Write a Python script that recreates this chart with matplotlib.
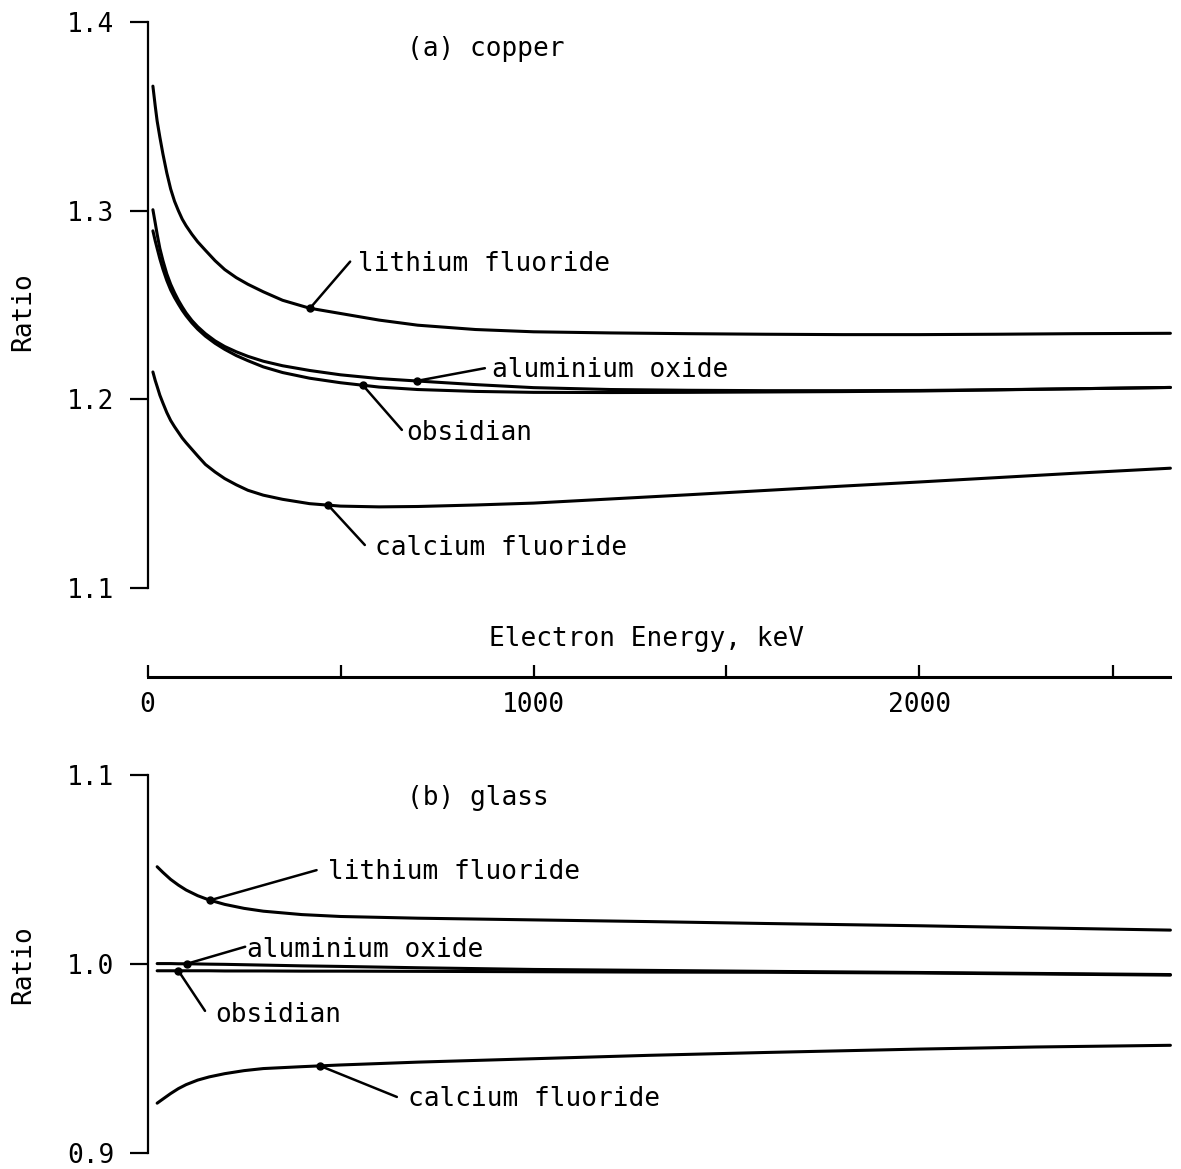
import numpy as np
import matplotlib
matplotlib.use('Agg')
import matplotlib.pyplot as plt

plt.rcParams['font.family'] = ['DejaVu Sans Mono', 'DejaVu Sans']

# ---------------- data ----------------
energy_a = [14, 20, 25, 32, 40, 50, 60, 70, 80, 90, 100, 115, 130, 150, 175, 200,
            230, 260, 300, 350, 420, 500, 600, 700, 850, 1000, 1200, 1400, 1600,
            1800, 2000, 2200, 2400, 2650]
lif_a = [1.3660, 1.3555, 1.3475, 1.3390, 1.3300, 1.3200, 1.3115, 1.3050, 1.3000,
         1.2955, 1.2920, 1.2875, 1.2835, 1.2790, 1.2735, 1.2688, 1.2645, 1.2610,
         1.2570, 1.2525, 1.2483, 1.2455, 1.2420, 1.2393, 1.2370, 1.2358, 1.2352,
         1.2348, 1.2345, 1.2343, 1.2343, 1.2345, 1.2348, 1.2350]
al2o3_a = [1.3005, 1.2935, 1.2875, 1.2800, 1.2735, 1.2665, 1.2610, 1.2565, 1.2525,
           1.2490, 1.2458, 1.2418, 1.2385, 1.2348, 1.2310, 1.2280, 1.2252, 1.2228,
           1.2202, 1.2178, 1.2153, 1.2130, 1.2110, 1.2097, 1.2078, 1.2062, 1.2052,
           1.2048, 1.2046, 1.2046, 1.2047, 1.2051, 1.2056, 1.2063]
obsidian_a = [1.2893, 1.2840, 1.2800, 1.2745, 1.2690, 1.2630, 1.2580, 1.2540, 1.2505,
              1.2472, 1.2443, 1.2405, 1.2372, 1.2335, 1.2297, 1.2265, 1.2232, 1.2205,
              1.2172, 1.2142, 1.2112, 1.2088, 1.2065, 1.2052, 1.2042, 1.2037, 1.2036,
              1.2037, 1.2039, 1.2041, 1.2044, 1.2050, 1.2056, 1.2063]
caf_a = [1.2145, 1.2100, 1.2068, 1.2022, 1.1980, 1.1930, 1.1888, 1.1855, 1.1825,
         1.1795, 1.1770, 1.1735, 1.1700, 1.1655, 1.1615, 1.1580, 1.1547, 1.1518,
         1.1492, 1.1470, 1.1447, 1.1434, 1.1430, 1.1432, 1.1440, 1.1450, 1.1472,
         1.1494, 1.1517, 1.1540, 1.1562, 1.1585, 1.1608, 1.1635]

energy_b = [25, 40, 60, 80, 100, 130, 160, 200, 250, 300, 400, 500, 700, 1000,
            1300, 1600, 2000, 2300, 2650]
lif_b = [1.0515, 1.0485, 1.0448, 1.0418, 1.0392, 1.0362, 1.0339, 1.0316, 1.0295,
         1.0280, 1.0262, 1.0252, 1.0243, 1.0234, 1.0225, 1.0215, 1.0203, 1.0192, 1.0180]
al2o3_b = [1.0003, 1.0003, 1.0003, 1.0002, 1.0002, 1.0001, 1.0000, 0.9999, 0.9997,
           0.9995, 0.9991, 0.9988, 0.9981, 0.9972, 0.9967, 0.9962, 0.9956, 0.9951, 0.9945]
obsidian_b = [0.9965, 0.9965, 0.9965, 0.9965, 0.9965, 0.9965, 0.9965, 0.9964, 0.9964,
              0.9964, 0.9963, 0.9963, 0.9962, 0.9960, 0.9958, 0.9957, 0.9953, 0.9948, 0.9942]
caf_b = [0.9265, 0.9287, 0.9316, 0.9342, 0.9363, 0.9387, 0.9404, 0.9421, 0.9437,
         0.9448, 0.9458, 0.9467, 0.9482, 0.9500, 0.9518, 0.9533, 0.9551, 0.9562, 0.9571]

materials = ['lithium fluoride', 'aluminium oxide', 'obsidian', 'calcium fluoride']
yticks_a = [1.1, 1.2, 1.3, 1.4]
yticks_b = [0.9, 1.0, 1.1]
xticks = [0, 500, 1000, 1500, 2000, 2500]
xticklabels = ['0', '', '1000', '', '2000', '']

# ---------------- layout ----------------
W_PX, H_PX = 1181, 1169
fig = plt.figure(figsize=(W_PX / 100, H_PX / 100), dpi=100)
FS = 18.8
XMAX = 2650
left = 147.5 / W_PX
width = (XMAX * 0.386) / W_PX

ax_a = fig.add_axes([left, 1 - 588 / H_PX, width, 566 / H_PX])
ax_b = fig.add_axes([left, 1 - 1153.3 / H_PX, width, 378.3 / H_PX])
ax_x = fig.add_axes([left, 1 - 677 / H_PX, width, 0.0005])

LW = 2.2


def style_y(ax, lo, hi, ticks):
    ax.set_xlim(0, XMAX)
    ax.set_ylim(lo, hi)
    for s in ['top', 'right', 'bottom']:
        ax.spines[s].set_visible(False)
    ax.spines['left'].set_linewidth(1.6)
    ax.set_xticks([])
    ax.set_yticks(ticks)
    ax.set_yticklabels([f'{t:.1f}' for t in ticks])
    ax.tick_params(axis='y', direction='out', length=13, width=1.6, pad=11,
                   labelsize=FS)
    ax.patch.set_visible(False)


style_y(ax_a, 1.1, 1.4, yticks_a)
style_y(ax_b, 0.9, 1.1, yticks_b)

curves_a = [lif_a, al2o3_a, obsidian_a, caf_a]
curves_b = [lif_b, al2o3_b, obsidian_b, caf_b]
for c in curves_a:
    ax_a.plot(energy_a, c, color='black', lw=LW, clip_on=False,
              solid_capstyle='round', solid_joinstyle='round')
for c in curves_b:
    ax_b.plot(energy_b, c, color='black', lw=LW, clip_on=False,
              solid_capstyle='round', solid_joinstyle='round')

# labels with leader lines: (energy at dot, leader end (x,y), text (x, baseline y))
labels_a = [
    (421, (525, 1.2730), (546, 1.2680)),
    (697, (874, 1.2165), (893, 1.2120)),
    (558, (659, 1.1838), (671, 1.1785)),
    (468, (563, 1.1228), (589, 1.1175)),
]
labels_b = [
    (162, (438, 1.0497), (468, 1.0448)),
    (102, (253, 1.0092), (257, 1.0039)),
    (80, (149, 0.9753), (175, 0.9695)),
    (447, (646, 0.9298), (676, 0.9249)),
]


def add_labels(ax, energy, curves, labels):
    for name, c, (xe, (lx, ly), (tx, ty)) in zip(materials, curves, labels):
        yd = np.interp(xe, energy, c)
        ax.plot([xe, lx], [yd, ly], color='black', lw=1.8, clip_on=False,
                solid_capstyle='round')
        ax.plot([xe], [yd], 'o', color='black', ms=5, clip_on=False)
        ax.text(tx, ty, name, fontsize=FS, ha='left', va='baseline')


add_labels(ax_a, energy_a, curves_a, labels_a)
add_labels(ax_b, energy_b, curves_b, labels_b)

ax_a.text(672, 1.3820, '(a) copper', fontsize=FS, ha='left', va='baseline')
ax_b.text(672, 1.0841, '(b) glass', fontsize=FS, ha='left', va='baseline')

# shared x axis between panels
ax_x.set_xlim(0, XMAX)
for s in ['top', 'right', 'left']:
    ax_x.spines[s].set_visible(False)
ax_x.spines['bottom'].set_linewidth(2.2)
ax_x.set_yticks([])
ax_x.set_xticks(xticks)
ax_x.set_xticklabels(xticklabels)
ax_x.tick_params(axis='x', direction='in', length=9, width=1.6, pad=11,
                 labelsize=FS)
ax_x.patch.set_visible(False)

fig.text(647 / W_PX, 1 - 646 / H_PX, 'Electron Energy, keV', fontsize=FS,
         ha='center', va='baseline')
fig.text(23 / W_PX, 1 - 312 / H_PX, 'Ratio', fontsize=FS, rotation=90,
         ha='center', va='center')
fig.text(23 / W_PX, 1 - 965 / H_PX, 'Ratio', fontsize=FS, rotation=90,
         ha='center', va='center')

fig.savefig('out.png', dpi=100)
